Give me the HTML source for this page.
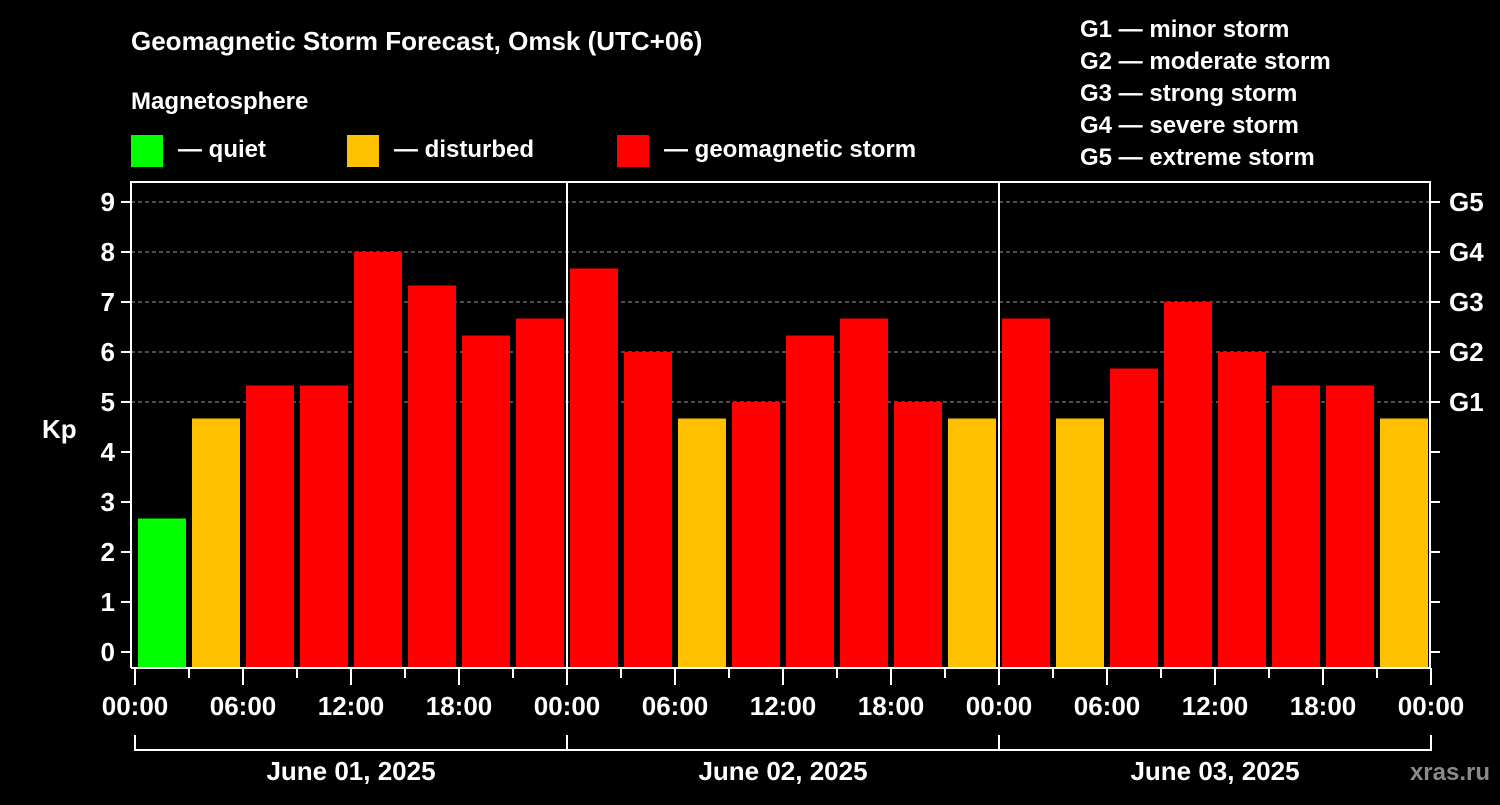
<!DOCTYPE html>
<html><head><meta charset="utf-8"><style>
body{margin:0;background:#000;width:1500px;height:800px;overflow:hidden}
svg text{font-family:"Liberation Sans",Arial,sans-serif;font-weight:bold;fill:#fff}
</style></head><body>
<svg id="c" width="1500" height="800" xmlns="http://www.w3.org/2000/svg">
<text x="131" y="50" font-size="26">Geomagnetic Storm Forecast, Omsk (UTC+06)</text>
<text x="131" y="109" font-size="24">Magnetosphere</text>
<rect x="131" y="135" width="32" height="32" fill="#00ff00"/>
<text x="178" y="157" font-size="24">— quiet</text>
<rect x="347" y="135" width="32" height="32" fill="#ffc000"/>
<text x="394" y="157" font-size="24">— disturbed</text>
<rect x="617" y="135" width="32" height="32" fill="#ff0000"/>
<text x="664" y="157" font-size="24">— geomagnetic storm</text>
<g font-size="24">
<text x="1080" y="37">G1 — minor storm</text>
<text x="1080" y="69">G2 — moderate storm</text>
<text x="1080" y="101">G3 — strong storm</text>
<text x="1080" y="133">G4 — severe storm</text>
<text x="1080" y="165">G5 — extreme storm</text>
</g>
<text x="42" y="438" font-size="26">Kp</text>
<text x="1490" y="780" font-size="24" text-anchor="end" fill="#888" style="fill:#8a8a8a">xras.ru</text>
<g id="plot"></g>
</svg>
<script>
const days = ["June 01, 2025","June 02, 2025","June 03, 2025"];
const kpValues = [2.67,4.67,5.33,5.33,8,7.33,6.33,6.67, 7.67,6,4.67,5,6.33,6.67,5,4.67, 6.67,4.67,5.67,7,6,5.33,5.33,4.67];
const yTicks = [0,1,2,3,4,5,6,7,8,9];
const gLabels = ["G1","G2","G3","G4","G5"];
const gLevels = [5,6,7,8,9];
const hourLabels = ["00:00","06:00","12:00","18:00"];

const NS="http://www.w3.org/2000/svg";
const g=document.getElementById('plot');
const X0=135, DAYW=432, Y0=652, YS=50, TOP=182, BOT=668, LEFT=131, RIGHT=1430;
const xOf=i=>X0+i*DAYW/8;
const yOf=v=>Y0-v*YS;
function mk(t,a,txt){const e=document.createElementNS(NS,t);for(const k in a)e.setAttribute(k,a[k]);if(txt!=null)e.textContent=txt;g.appendChild(e);return e;}
// grid
gLevels.forEach(v=>{
 const l=mk('line',{x1:LEFT,x2:RIGHT,y1:yOf(v),y2:yOf(v),stroke:'#999','stroke-dasharray':'4,3','stroke-width':1});
 
 
});
// bars
kpValues.forEach((v,i)=>{
 const c=v<4?'#00ff00':(v<5?'#ffc000':'#ff0000');
 const r=mk('rect',{x:xOf(i)+3,y:yOf(v),width:48,height:BOT-yOf(v),fill:c});
 
 
});
// frame
const fr=mk('path',{d:`M${LEFT} ${BOT}V${TOP}H${RIGHT}V${BOT}H${LEFT}`,fill:'none',stroke:'#fff','stroke-width':2});


for(let d=1;d<days.length;d++){
 const l=mk('line',{x1:X0+d*DAYW,x2:X0+d*DAYW,y1:TOP,y2:BOT,stroke:'#fff','stroke-width':2});
 
 
}
// y ticks
yTicks.forEach(v=>{
 mk('line',{x1:LEFT-10,x2:LEFT,y1:yOf(v),y2:yOf(v),stroke:'#fff','stroke-width':2});
 mk('line',{x1:RIGHT,x2:RIGHT+10,y1:yOf(v),y2:yOf(v),stroke:'#fff','stroke-width':2});
 const t=mk('text',{x:LEFT-16,y:yOf(v)+9,'font-size':26,'text-anchor':'end'},v);
 
 
});
gLevels.forEach((v,i)=>{
 const t=mk('text',{x:RIGHT+19,y:yOf(v)+9,'font-size':26},gLabels[i]);
 
 
});
// x ticks
for(let i=0;i<=days.length*8;i++){
 const major=i%2===0;
 mk('line',{x1:xOf(i),x2:xOf(i),y1:BOT,y2:BOT+(major?17:10),stroke:'#fff','stroke-width':2});
 if(major){
  const t=mk('text',{x:xOf(i),y:715,'font-size':26,'text-anchor':'middle'},hourLabels[(i/2)%4]);
  
  
 }
}
// day brackets
mk('path',{d:`M${X0} 735V750H${X0+days.length*DAYW}V735`,fill:'none',stroke:'#fff','stroke-width':2});
days.forEach((d,i)=>{
 if(i>0) mk('line',{x1:X0+i*DAYW,x2:X0+i*DAYW,y1:735,y2:750,stroke:'#fff','stroke-width':2});
 const t=mk('text',{x:X0+i*DAYW+DAYW/2,y:780,'font-size':26,'text-anchor':'middle'},d);
 
 
});
</script>
</body></html>
